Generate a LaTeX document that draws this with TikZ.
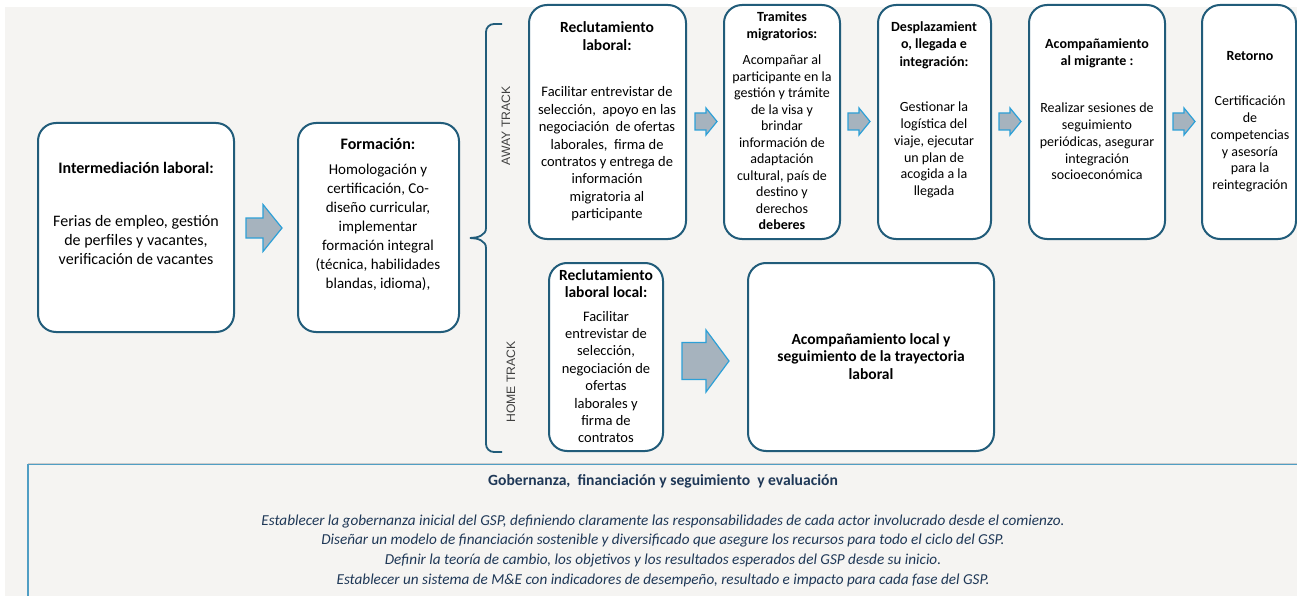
\documentclass[tikz,border=0pt]{standalone}
\usepackage{fontspec}
\setmainfont{Carlito}
\newfontfamily\arialf{Liberation Sans}
\definecolor{bgc}{RGB}{245,244,242}
\definecolor{boxc}{RGB}{33,92,122}
\definecolor{arrf}{RGB}{166,179,190}
\definecolor{arrd}{RGB}{45,160,215}
\definecolor{panl}{RGB}{80,158,196}
\definecolor{pant}{RGB}{31,56,87}
\definecolor{trk}{RGB}{64,64,64}
\newcommand\blkarrow[6]{%
  \draw[arr] (#1,#2-#5) -- (#1+#3-#4,#2-#5) -- (#1+#3-#4,#2-#6) -- (#1+#3,#2)
    -- (#1+#3-#4,#2+#6) -- (#1+#3-#4,#2+#5) -- (#1,#2+#5) -- cycle;}
\tikzset{
  box/.style={draw=boxc, line width=2pt, fill=white, rounded corners=18pt, inner sep=0pt},
  arr/.style={draw=arrd, line width=1.2pt, fill=arrf, line join=miter},
  ttl/.style={font=\bfseries\fontsize{#1}{17.5}\selectfont, align=center, inner sep=0pt},
  ttl/.default=14.5,
  bdy/.style={font=\fontsize{14.5}{17.4}\selectfont, align=center, inner sep=0pt},
  trklbl/.style={font=\arialf\fontsize{12.2}{14}\selectfont, text=trk, rotate=90, inner sep=0pt},
  brace/.style={draw=boxc, line width=1.8pt},
}
\begin{document}
\begin{tikzpicture}[x=1pt,y=-1pt]
\useasboundingbox (0,0) rectangle (1297,596);
\fill[white] (0,0) rectangle (1297,596);
\fill[bgc] (5,7) rectangle (1297,596);

% bottom panel
\draw[gray!40, line width=0.8pt] (28,463) -- (1297,463);
\draw[panl, line width=1.5pt] (1300,464.5) -- (28,464.5) -- (28,600);

% boxes
\node[box, minimum width=196pt, minimum height=209pt] (b1) at (136,227.5) {};
\node[box, minimum width=161pt, minimum height=209pt] (b2) at (378.5,227.5) {};
\node[box, minimum width=157pt, minimum height=234pt] (b3) at (607.5,122) {};
\node[box, minimum width=116pt, minimum height=234pt] (b4) at (782,122) {};
\node[box, minimum width=113pt, minimum height=234pt] (b5) at (934.5,122) {};
\node[box, minimum width=136pt, minimum height=234pt] (b6) at (1097,122) {};
\node[box, minimum width=94pt, minimum height=234pt] (b7) at (1249,122) {};
\node[box, minimum width=114pt, minimum height=188pt] (b8) at (606,357) {};
\node[box, minimum width=246pt, minimum height=188pt] (b9) at (871,357) {};

% arrows
\blkarrow{246}{228}{36}{19}{10}{23.5}
\blkarrow{695}{121.5}{22}{11}{8.5}{13.5}
\blkarrow{848}{121.5}{22}{11}{8.5}{13.5}
\blkarrow{999}{121.5}{22}{11}{8.5}{13.5}
\blkarrow{1173}{121.5}{22}{11}{8.5}{13.5}
\blkarrow{682}{361}{47}{23}{18.5}{31}

% brace
\draw[brace] (502,24) -- (494,24) to[out=180,in=90] (486,32) -- (486,228)
  to[out=-90,in=0] (470,238) to[out=0,in=90] (486,248) -- (486,444)
  to[out=-90,in=180] (494,452) -- (502,452);
\node[trklbl] (away) at (506,126) {AWAY TRACK};
\node[trklbl] (home) at (511,382) {HOME TRACK};

% texts
\node[ttl=16] (t1) at (136,168) {Intermediación laboral:};
\node[bdy, font=\fontsize{16}{19}\selectfont] (d1) at (136,240) {Ferias de empleo, gestión\\de perfiles y vacantes,\\verificación de vacantes};

\node[ttl=16] (t2) at (378,144) {Formación:};
\node[bdy, font=\fontsize{15}{19}\selectfont] (d2) at (378,227) {Homologación y\\certificación, Co-\\diseño curricular,\\implementar\\formación integral\\(técnica, habilidades\\blandas, idioma),};

\node[ttl=15.5] (t3) at (607,36) {Reclutamiento\\laboral:};
\node[bdy] (d3) at (607,154) {Facilitar entrevistar de\\selección,\ \ apoyo en las\\negociación\ \ de ofertas\\laborales,\ \ firma de\\contratos y entrega de\\información\\migratoria al\\participante};

\node[ttl=14] (t4) at (782,26.5) {Tramites\\migratorios:};
\node[bdy, font=\fontsize{14}{16.5}\selectfont] (d4) at (782,142.5) {Acompañar al\\participante en la\\gestión y trámite\\de la visa y\\brindar\\información de\\adaptación\\cultural, país de\\destino y\\derechos\\\textbf{deberes}};

\node[ttl=14] (t5) at (934,45) {Desplazamient\\o, llegada e\\integración:};
\node[bdy, font=\fontsize{14}{16.8}\selectfont] (d5) at (934,150) {Gestionar la\\logística del\\viaje, ejecutar\\un plan de\\acogida a la\\llegada};

\node[ttl=14] (t6) at (1097,53.5) {Acompañamiento\\al migrante :};
\node[bdy, font=\fontsize{14}{16.8}\selectfont] (d6) at (1097,141.5) {Realizar sesiones de\\seguimiento\\periódicas, asegurar\\integración\\socioeconómica};

\node[ttl=14] (t7) at (1250,56) {Retorno};
\node[bdy, font=\fontsize{14}{16.9}\selectfont] (d7) at (1250,144) {Certificación\\de\\competencias\\y asesoría\\para la\\reintegración};

\node[ttl=15.5] (t8) at (606,283.5) {Reclutamiento\\laboral local:};
\node[bdy] (d8) at (606,377) {Facilitar\\entrevistar de\\selección,\\negociación de\\ofertas\\laborales y\\firma de\\contratos};

\node[ttl=15.5] (t9) at (871,356.5) {Acompañamiento local y\\seguimiento de la trayectoria\\laboral};

\node[font=\bfseries\fontsize{15.6}{17}\selectfont, text=pant, inner sep=0pt] (gt) at (663,481) {Gobernanza,\ \ financiación y seguimiento\ \ y evaluación};
\node[font=\itshape\fontsize{15.2}{19.7}\selectfont, text=pant, align=center, inner sep=0pt] (gd) at (663,550.5) {Establecer la gobernanza inicial del GSP, definiendo claramente las responsabilidades de cada actor involucrado desde el comienzo.\\Diseñar un modelo de financiación sostenible y diversificado que asegure los recursos para todo el ciclo del GSP.\\Definir la teoría de cambio, los objetivos y los resultados esperados del GSP desde su inicio.\\Establecer un sistema de M\&E con indicadores de desempeño, resultado e impacto para cada fase del GSP.};
\end{tikzpicture}
\end{document}
